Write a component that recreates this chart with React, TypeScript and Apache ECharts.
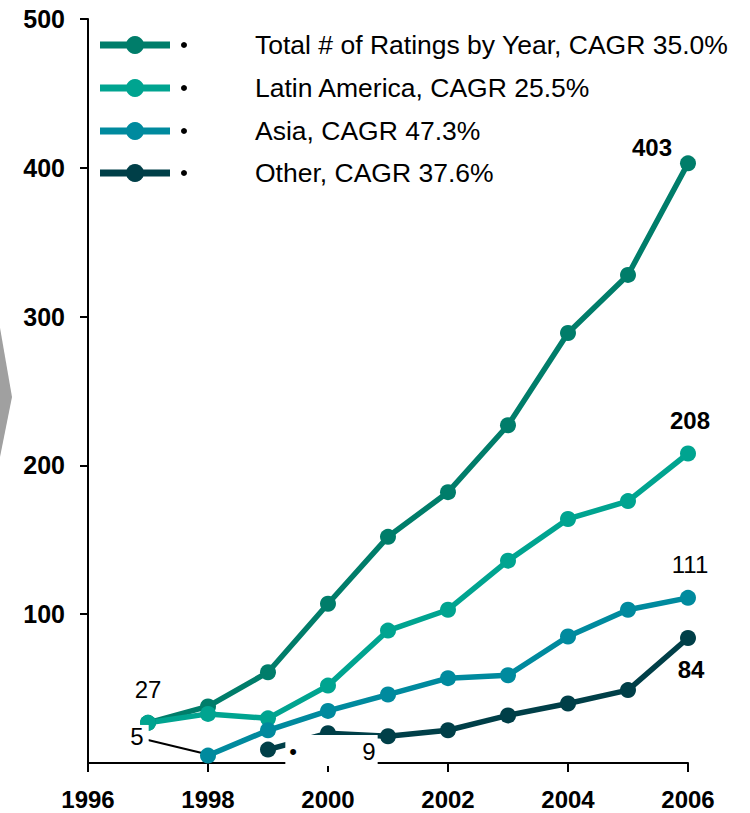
import React, { useEffect, useRef } from "react";
import * as echarts from "echarts";

// ---- Data ----
const years = [1997, 1998, 1999, 2000, 2001, 2002, 2003, 2004, 2005, 2006];
const totalValues = [27, 38, 61, 107, 152, 182, 227, 289, 328, 403];
const latinValues = [27, 33, 30, 52, 89, 103, 136, 164, 176, 208];
const asiaValues: (number | null)[] = [null, 5, 22, 35, 46, 57, 59, 85, 103, 111];
const otherValues: (number | null)[] = [null, null, 9, 20, 18, 22, 32, 40, 49, 84];
const seriesNames = [
  "Total # of Ratings by Year, CAGR 35.0%",
  "Latin America, CAGR 25.5%",
  "Asia, CAGR 47.3%",
  "Other, CAGR 37.6%",
];
const seriesValues = [totalValues, latinValues, asiaValues, otherValues];
const xMin = 1996;
const xMax = 2006;
const xStep = 2;
const yMin = 0;
const yMax = 500;
const yStep = 100;

// ---- Styles ----
const colors = ["#007D6A", "#00A490", "#008A9E", "#003F48"];
const FONT = "'Liberation Sans', Arial, Helvetica, sans-serif";

const labelBase = {
  show: true,
  position: "inside",
  color: "#000",
  fontSize: 24,
  fontFamily: FONT,
  textBorderWidth: 0,
};

const labelSpecs: Record<string, any> = {
  "0-2006": { fontWeight: "bold", offset: [-36, -16] },
  "1-1997": { offset: [0, -33] },
  "1-2006": { fontWeight: "bold", offset: [2, -32.5] },
  "2-1998": { offset: [-70, -18.6], backgroundColor: "#fff", padding: [0, 5, 0, 3] },
  "2-2006": { offset: [2, -33] },
  "3-1999": {
    offset: [63.5, 1],
    backgroundColor: "#fff",
    padding: [4, 2, 3, 4],
    rich: {
      d: { width: 73, align: "left", fontSize: 22, color: "#000", fontFamily: FONT },
      n: { fontSize: 24, color: "#000", fontFamily: FONT },
    },
    formatter: (p: any) => `{d|•}{n|${p.value[1]}}`,
  },
  "3-2006": { fontWeight: "bold", offset: [3, 31] },
};

function buildData(si: number) {
  const vals = seriesValues[si];
  const out: any[] = [];
  years.forEach((yr, i) => {
    const v = vals[i];
    if (v === null || v === undefined) return;
    const spec = labelSpecs[`${si}-${yr}`];
    const item: any = { value: [yr, v] };
    if (spec) {
      item.label = {
        ...labelBase,
        formatter: (p: any) => String(p.value[1]),
        ...spec,
      };
    }
    out.push(item);
  });
  return out;
}

const legendRows = [45, 88, 131, 173];

function baseGraphics(): any[] {
  const els: any[] = [
    {
      type: "polygon",
      shape: { points: [[-5, 299], [12, 397], [-5, 482]] },
      style: { fill: "#A0A0A0" },
      z: 1,
    },
  ];
  seriesNames.forEach((name, i) => {
    const y = legendRows[i];
    els.push({
      type: "line",
      shape: { x1: 100, y1: y, x2: 170, y2: y },
      style: { stroke: colors[i], lineWidth: 7 },
      z: 5,
    });
    els.push({
      type: "circle",
      shape: { cx: 135, cy: y, r: 9 },
      style: { fill: colors[i] },
      z: 6,
    });
    els.push({
      type: "circle",
      shape: { cx: 184, cy: y, r: 3 },
      style: { fill: "#000" },
      z: 6,
    });
    els.push({
      type: "text",
      x: 255,
      y: y,
      style: {
        text: name,
        fill: "#000",
        font: `26.5px ${FONT}`,
        textAlign: "left",
        textVerticalAlign: "middle",
      },
      z: 6,
    });
  });
  return els;
}

export default function App() {
  const ref = useRef<HTMLDivElement>(null);
  useEffect(() => {
    if (!ref.current) return;
    const chart = echarts.init(ref.current, undefined, { renderer: "svg" });
    const option: any = {
      animation: false,
      backgroundColor: "#fff",
      grid: { left: 88, right: 62, top: 19, bottom: 50, containLabel: false },
      xAxis: {
        type: "value",
        min: xMin,
        max: xMax,
        interval: xStep,
        splitLine: { show: false },
        axisLine: { show: true, lineStyle: { color: "#000", width: 2 } },
        axisTick: { show: true, length: 9, lineStyle: { color: "#000", width: 2 } },
        axisLabel: {
          formatter: (v: number) => String(v),
          color: "#000",
          fontSize: 24,
          fontWeight: "bold",
          fontFamily: FONT,
          margin: 24,
        },
      },
      yAxis: {
        type: "value",
        min: yMin,
        max: yMax,
        interval: yStep,
        splitLine: { show: false },
        axisLine: { show: true, lineStyle: { color: "#000", width: 2 } },
        axisTick: { show: true, length: 8, lineStyle: { color: "#000", width: 2 } },
        axisLabel: {
          showMinLabel: false,
          color: "#000",
          fontSize: 25,
          fontWeight: "bold",
          fontFamily: FONT,
          margin: 23,
        },
      },
      series: seriesNames.map((name, i) => ({
        name,
        type: "line",
        data: buildData(i),
        symbol: "circle",
        symbolSize: 16,
        lineStyle: { color: colors[i], width: 5.5 },
        itemStyle: { color: colors[i] },
        label: { show: false },
        emphasis: { disabled: true },
      })),
      graphic: { elements: baseGraphics() },
    };
    chart.setOption(option);

    const p = chart.convertToPixel({ gridIndex: 0 }, [1998, asiaValues[1] as number]) as number[];
    const els = baseGraphics();
    els.push({
      type: "line",
      shape: { x1: p[0] - 60, y1: p[1] - 15.6, x2: p[0] - 6, y2: p[1] - 2.6 },
      style: { stroke: "#000", lineWidth: 2 },
      z: 3,
    });
    chart.setOption({ graphic: { elements: els } });

    return () => chart.dispose();
  }, []);
  return (
    <div
      ref={ref}
      style={{ position: "fixed", left: 0, top: 0, width: 750, height: 813 }}
    />
  );
}
